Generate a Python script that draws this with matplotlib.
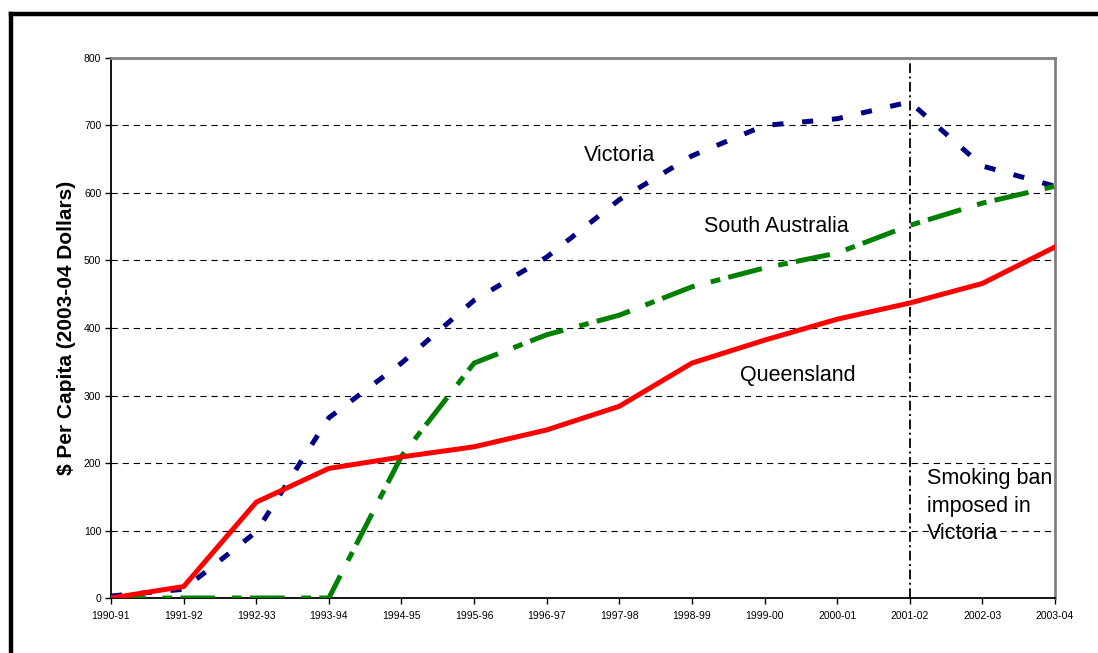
import numpy as np
import matplotlib
matplotlib.use("Agg")
import matplotlib.pyplot as plt
from matplotlib.lines import Line2D

plt.rcParams['font.family'] = ['Liberation Sans', 'DejaVu Sans']
plt.rcParams['lines.scale_dashes'] = False

years = ['1990-91', '1991-92', '1992-93', '1993-94', '1994-95', '1995-96', '1996-97',
         '1997-98', '1998-99', '1999-00', '2000-01', '2001-02', '2002-03', '2003-04']
victoria = [3, 13, 98, 267, 348, 441, 505, 590, 655, 700, 710, 735, 640, 610]
south_aus = [0, 0, 0, 0, 210, 348, 390, 419, 461, 489, 511, 552, 585, 610]
queensland = [0, 17, 142, 192, 209, 224, 249, 284, 348, 382, 413, 437, 466, 520]
ban_year = '2001-02'

x = np.arange(len(years))

fig = plt.figure(figsize=(10.98, 6.53), dpi=100)
ax = fig.add_axes([0.1011, 0.0842, 0.8597, 0.827])

# horizontal dashed gridlines
for v in range(100, 800, 100):
    ax.axhline(v, color='black', lw=0.8, linestyle=(0, (4.5, 3.5)), zorder=1)

ax.plot(x, victoria, color='#000080', lw=3.6, linestyle=(0, (8, 13.5)), zorder=3)
ax.plot(x, south_aus, color='#008000', lw=3.6, linestyle=(0, (25, 12, 7, 6)), zorder=3)
ax.plot(x, queensland, color='#ff0000', lw=3.6, zorder=4)

ban_x = years.index(ban_year)
ax.axvline(ban_x, color='black', lw=1.3, linestyle=(0, (7, 2.5, 1.5, 2.5)), zorder=2)

ax.set_xlim(0, len(years) - 1)
ax.set_ylim(0, 800)
ax.set_xticks(x)
ax.set_xticklabels(years, fontsize=7.5)
ax.set_yticks(range(0, 900, 100))
ax.tick_params(axis='y', labelsize=7.5, length=4, width=1, pad=3)
ax.tick_params(axis='x', length=4, width=1, pad=5)

for side in ('top', 'right'):
    ax.spines[side].set_color('#808080')
    ax.spines[side].set_linewidth(2)
for side in ('left', 'bottom'):
    ax.spines[side].set_color('black')
    ax.spines[side].set_linewidth(1.3)

ax.set_ylabel('$ Per Capita (2003-04 Dollars)', fontsize=15, fontweight='bold', labelpad=6)

ax.text(7.01, 655, 'Victoria', fontsize=15.5, ha='center', va='center')
ax.text(9.16, 550, 'South Australia', fontsize=15.5, ha='center', va='center')
ax.text(9.46, 329, 'Queensland', fontsize=15.5, ha='center', va='center')
ax.text(11.24, 136, 'Smoking ban\nimposed in\nVictoria', fontsize=15.5, ha='left', va='center',
        linespacing=1.42)

# outer frame
fig.add_artist(Line2D([10.5 / 1098, 1], [1 - 14 / 653, 1 - 14 / 653], color='black', lw=3.2,
                      solid_capstyle='projecting', transform=fig.transFigure))
fig.add_artist(Line2D([10.5 / 1098, 10.5 / 1098], [1 - 14 / 653, 0], color='black', lw=3.2,
                      solid_capstyle='projecting', transform=fig.transFigure))

fig.savefig('out.png', dpi=100)
